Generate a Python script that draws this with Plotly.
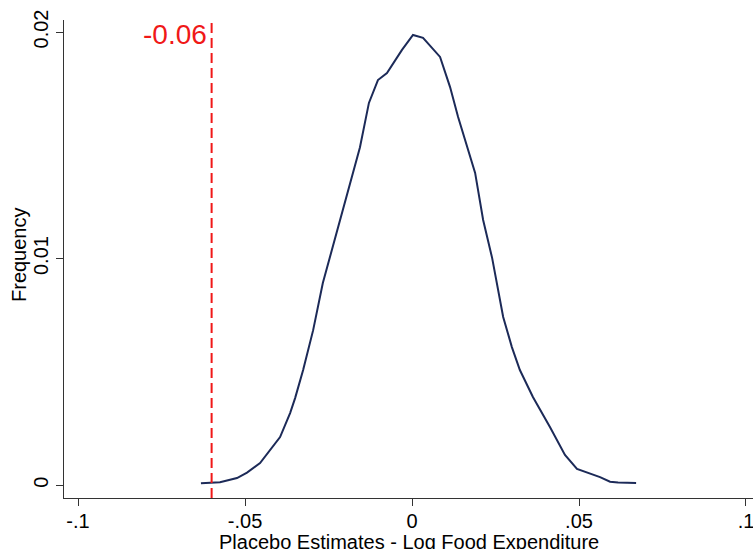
import plotly.graph_objects as go

# Kernel density of placebo estimates
est_x = [-0.0632, -0.0605, -0.0575, -0.0524, -0.0494, -0.0455, -0.0419, -0.0395,
         -0.0365, -0.0350, -0.0326, -0.0296, -0.0267, -0.0240, -0.0195, -0.0156,
         -0.0129, -0.0102, -0.0075, -0.0030, 0.0003, 0.0033, 0.0084, 0.0114,
         0.0138, 0.0189, 0.0213, 0.0240, 0.0273, 0.0299, 0.0323, 0.0362,
         0.0413, 0.0458, 0.0494, 0.0512, 0.0563, 0.0593, 0.0617, 0.0671]
density = [0.00008, 0.00009, 0.00013, 0.00031, 0.00055, 0.00097, 0.00168, 0.00212,
           0.00318, 0.00384, 0.00508, 0.00684, 0.00892, 0.01038, 0.01287, 0.01490,
           0.01687, 0.01788, 0.01819, 0.01921, 0.01987, 0.01974, 0.01890, 0.01757,
           0.01625, 0.01378, 0.01170, 0.01002, 0.00742, 0.00609, 0.00508, 0.00389,
           0.00256, 0.00133, 0.00071, 0.00062, 0.00035, 0.00015, 0.00011, 0.00009]

actual_estimate = -0.06
actual_label = "-0.06"

x_ticks = [-0.1, -0.05, 0, 0.05, 0.1]
x_tick_labels = ["-.1", "-.05", "0", ".05", ".1"]
y_ticks = [0, 0.01, 0.02]
y_tick_labels = ["0", "0.01", "0.02"]

y_range = [-0.00057, 0.02053]
x_range = [-0.1042, 0.1021]

FONT = "Liberation Sans, Arial"

W, H = 753, 549
ML, MT, MB, MR = 64, 20, 51, 0
PW = W - ML - MR
PH = H - MT - MB

fig = go.Figure()
fig.add_trace(go.Scatter(x=est_x, y=density, mode="lines",
                         line=dict(color="#1c2a58", width=2), showlegend=False,
                         hoverinfo="skip"))
fig.add_trace(go.Scatter(x=[actual_estimate, actual_estimate], y=[y_range[0], y_range[1] + 0.0001],
                         mode="lines", line=dict(color="#f01818", width=2, dash="10px,5px"),
                         showlegend=False, hoverinfo="skip", cliponaxis=False))

fig.add_annotation(x=actual_estimate, y=0.0199, text=actual_label, showarrow=False,
                   xanchor="right", yanchor="middle", xshift=-3,
                   font=dict(family=FONT, size=28, color="#f01818"))

# axis titles as annotations for precise placement
fig.add_annotation(xref="paper", yref="paper", x=0.5, y=-44 / PH,
                   text="Placebo Estimates - Log Food Expenditure", showarrow=False,
                   xanchor="center", yanchor="middle",
                   font=dict(family=FONT, size=20, color="black"))
fig.add_annotation(xref="paper", yref="paper", x=-45 / PW, y=(498 - 255) / PH,
                   text="Frequency", showarrow=False, textangle=-90,
                   xanchor="center", yanchor="middle",
                   font=dict(family=FONT, size=20, color="black"))

fig.update_layout(
    width=W, height=H,
    margin=dict(l=ML, r=MR, t=MT, b=MB),
    paper_bgcolor="white", plot_bgcolor="white",
    font=dict(family=FONT, size=20, color="black"),
    xaxis=dict(range=x_range, tickvals=x_ticks, ticktext=x_tick_labels,
               showgrid=False, zeroline=False, showline=True, linecolor="#333333",
               linewidth=1, ticks="outside", ticklen=7, tickcolor="#333333",
               tickfont=dict(size=20), automargin=False, ticklabeloverflow="allow",
               ticklabelstandoff=-2),
    yaxis=dict(range=y_range, tickvals=y_ticks, ticktext=y_tick_labels,
               showgrid=False, zeroline=False, showline=True, linecolor="#333333",
               linewidth=1, ticks="outside", ticklen=7, tickcolor="#333333",
               tickangle=-90, tickfont=dict(size=20), automargin=False),
)

fig.write_html("out.html", config={"displayModeBar": False},
               post_script="document.body.style.margin='0';document.body.style.overflow='hidden';")
